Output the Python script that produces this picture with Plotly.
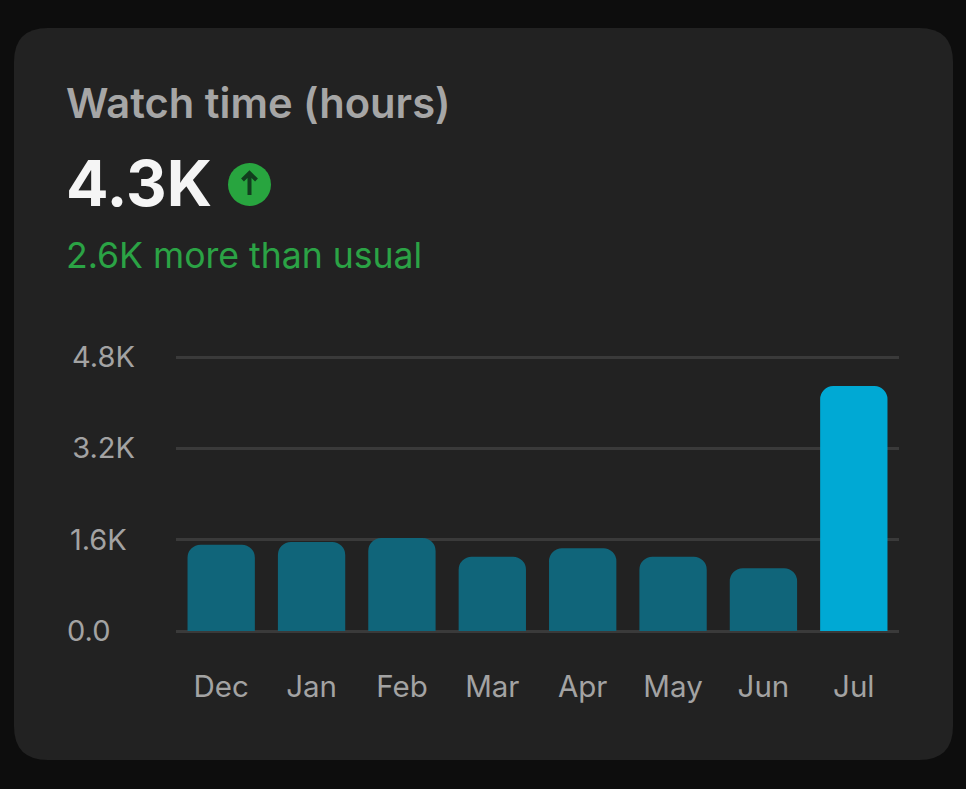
import plotly.graph_objs as go

WIDTH = 966
HEIGHT = 789

# Where the plot area sits on the page, paper coordinates count from here
LEFT, RIGHT, TOP, BOTTOM = 176, 899, 354, 631


# Pixel helpers, the card and the header are placed by eye
def px(x):
    return (x - LEFT) / (RIGHT - LEFT)


def py(y):
    return (BOTTOM - y) / (BOTTOM - TOP)


def card_path(x0, y0, x1, y1, r):
    return ('M {a},{t} L {b},{t} Q {R},{t} {R},{c} L {R},{d} Q {R},{B} {b},{B} '
            'L {a},{B} Q {L},{B} {L},{d} L {L},{c} Q {L},{t} {a},{t} Z').format(
        a=px(x0 + r), b=px(x1 - r), c=py(y0 + r), d=py(y1 - r),
        L=px(x0), R=px(x1), t=py(y0), B=py(y1))


def plot_watch_time():
    months = ['Dec', 'Jan', 'Feb', 'Mar', 'Apr', 'May', 'Jun', 'Jul']
    hours = [1.51, 1.56, 1.63, 1.30, 1.45, 1.30, 1.10, 4.29]
    bar_colors = ['#10657a'] * 7 + ['#00a9d4']

    # Create trace
    trace = go.Bar(x = months,
                   y = hours,
                   width = 0.745,
                   marker = dict(color=bar_colors, cornerradius=13, line=dict(width=0)),
                   hoverinfo = 'x+y',
                   )

    # Header texts
    text_font = 'Inter'
    header = [dict(text='Watch time (hours)', y=py(103), x=px(64), font=dict(family=text_font, size=41.7, color='#a6a6a6', weight=600)),
              dict(text='4.3K', y=py(183), x=px(64), font=dict(family=text_font, size=63, color='#f5f5f5', weight=700)),
              dict(text='2.6K more than usual', y=py(255), x=px(64), font=dict(family=text_font, size=35.6, color='#2ba345'))]
    annotations = [dict(a, xref='paper', yref='paper', xanchor='left', yanchor='middle',
                        showarrow=False) for a in header]

    # Create layout
    layout = dict(width = WIDTH,
                  height = HEIGHT,
                  paper_bgcolor = '#0d0d0d',
                  plot_bgcolor = 'rgba(0,0,0,0)',
                  margin = dict(l=LEFT, r=WIDTH - RIGHT, t=TOP, b=HEIGHT - BOTTOM, pad=0),
                  showlegend = False,
                  bargap = 0.255,
                  font = dict(family=text_font, size=29, color='#a3a3a3'),
                  xaxis = dict(type='category', showgrid=False, zeroline=False, showline=False,
                               ticks='', ticklabelstandoff=35, tickfont=dict(size=29.5, color='#a3a3a3')),
                  # the range runs past 4.8 or plotly drops the top grid line
                  yaxis = dict(range=[0, 4.8525],
                               tickvals=[0, 1.6, 3.2, 4.8],
                               # non-breaking spaces keep the labels roughly left aligned
                               ticktext=['0.0\u00a0\u00a0\u00a0', '1.6K\u00a0', '3.2K', '4.8K'],
                               showgrid=True, gridcolor='#3a3a3a', gridwidth=3,
                               zeroline=True, zerolinecolor='#3a3a3a', zerolinewidth=3,
                               showline=False, ticks='', ticklabelstandoff=40,
                               tickfont=dict(size=29, color='#a3a3a3')),
                  annotations = annotations,
                  shapes = [dict(type='path', layer='below', xref='paper', yref='paper',
                                 path=card_path(14, 28, 953, 760, 34),
                                 fillcolor='#222222', line=dict(width=0)),
                            dict(type='circle', xref='paper', yref='paper',
                                 x0=px(228), x1=px(271), y0=py(206), y1=py(163),
                                 fillcolor='#28a53f', line=dict(width=0)),
                            # the arrow inside the badge
                            dict(type='path', xref='paper', yref='paper',
                                 path='M {x},{y0} L {x},{y1} M {l},{m} L {x},{y1} L {r},{m}'.format(
                                     x=px(249.5), y0=py(195), y1=py(173), l=px(242.5), r=px(256.5), m=py(180)),
                                 line=dict(color='#123d1e', width=4))])

    # Create plot
    fig = go.Figure(data=[trace], layout=layout)
    fig.write_html("out.html", config=dict(displayModeBar=False),
                   post_script="document.body.style.margin = '0';")


plot_watch_time()
